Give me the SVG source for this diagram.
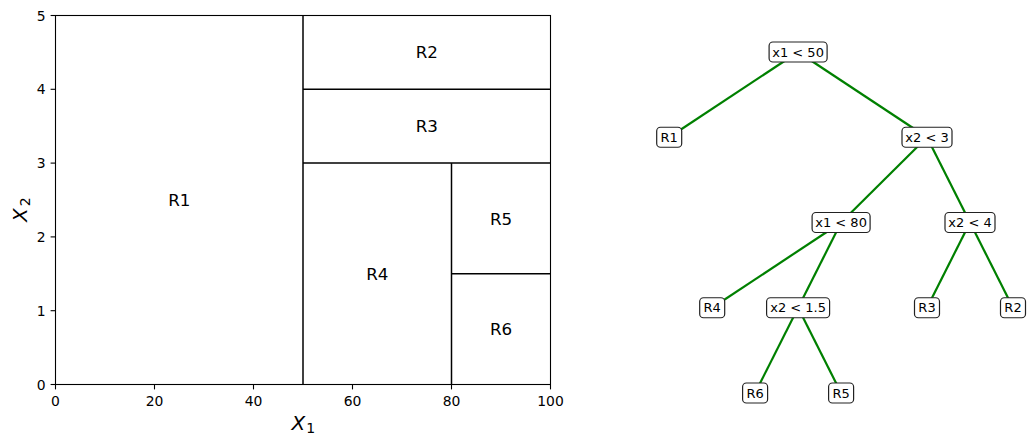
<svg xmlns="http://www.w3.org/2000/svg" width="1030" height="445" viewBox="0 0 1030 445">
<style>
text{font-family:"DejaVu Sans","Liberation Sans",sans-serif;fill:#000}
.tick{font-size:13.9px}
.reg{font-size:16.7px;text-anchor:middle}
.ax{stroke:#000;stroke-width:1.1;fill:none}
.split{stroke:#000;stroke-width:1.5;fill:none}
.tk{stroke:#000;stroke-width:1.1}
.edge{stroke:#008000;stroke-width:2.2;fill:none}
.box{fill:#fff;stroke:#222;stroke-width:1.2}
.nt{font-size:13px;text-anchor:middle}
</style>
<rect width="1030" height="445" fill="#fff"/>
<g id="partition-plot">
<g id="splits">
<line class="split" x1="303" y1="15.5" x2="303" y2="384.5"/>
<line class="split" x1="303" y1="89.3" x2="550.5" y2="89.3"/>
<line class="split" x1="303" y1="163.1" x2="550.5" y2="163.1"/>
<line class="split" x1="451.5" y1="163.1" x2="451.5" y2="384.5"/>
<line class="split" x1="451.5" y1="273.8" x2="550.5" y2="273.8"/>
</g>
<rect class="ax" x="55.5" y="15.5" width="495" height="369"/>
<g id="xticks">
<line class="tk" x1="55.5" y1="384.5" x2="55.5" y2="389.4"/>
<line class="tk" x1="154.5" y1="384.5" x2="154.5" y2="389.4"/>
<line class="tk" x1="253.5" y1="384.5" x2="253.5" y2="389.4"/>
<line class="tk" x1="352.5" y1="384.5" x2="352.5" y2="389.4"/>
<line class="tk" x1="451.5" y1="384.5" x2="451.5" y2="389.4"/>
<line class="tk" x1="550.5" y1="384.5" x2="550.5" y2="389.4"/>
<text class="tick" x="55.5" y="406" text-anchor="middle">0</text>
<text class="tick" x="154.5" y="406" text-anchor="middle">20</text>
<text class="tick" x="253.5" y="406" text-anchor="middle">40</text>
<text class="tick" x="352.5" y="406" text-anchor="middle">60</text>
<text class="tick" x="451.5" y="406" text-anchor="middle">80</text>
<text class="tick" x="550.5" y="406" text-anchor="middle">100</text>
</g>
<g id="yticks">
<line class="tk" x1="50.6" y1="384.5" x2="55.5" y2="384.5"/>
<line class="tk" x1="50.6" y1="310.7" x2="55.5" y2="310.7"/>
<line class="tk" x1="50.6" y1="236.9" x2="55.5" y2="236.9"/>
<line class="tk" x1="50.6" y1="163.1" x2="55.5" y2="163.1"/>
<line class="tk" x1="50.6" y1="89.3" x2="55.5" y2="89.3"/>
<line class="tk" x1="50.6" y1="15.5" x2="55.5" y2="15.5"/>
<text class="tick" x="45.5" y="389.5" text-anchor="end">0</text>
<text class="tick" x="45.5" y="315.7" text-anchor="end">1</text>
<text class="tick" x="45.5" y="241.9" text-anchor="end">2</text>
<text class="tick" x="45.5" y="168.1" text-anchor="end">3</text>
<text class="tick" x="45.5" y="94.3" text-anchor="end">4</text>
<text class="tick" x="45.5" y="20.5" text-anchor="end">5</text>
</g>
<text x="291.5" y="430" font-size="20" font-style="italic">X<tspan font-size="14" font-style="normal" dx="1" dy="3">1</tspan></text>
<text transform="translate(26.5,222) rotate(-90)" x="0" y="0" font-size="20" font-style="italic">X<tspan font-size="14" font-style="normal" dx="2" dy="3">2</tspan></text>
<g id="region-labels">
<text class="reg" x="179.3" y="206">R1</text>
<text class="reg" x="426.8" y="58.4">R2</text>
<text class="reg" x="426.8" y="132.2">R3</text>
<text class="reg" x="377.3" y="279.8">R4</text>
<text class="reg" x="501" y="224.5">R5</text>
<text class="reg" x="501" y="335.2">R6</text>
</g>
</g>
<g id="connectors">
<line class="edge" x1="798.1" y1="52" x2="669.2" y2="137.25"/>
<line class="edge" x1="798.1" y1="52" x2="927" y2="137.25"/>
<line class="edge" x1="927" y1="137.25" x2="841.1" y2="222.5"/>
<line class="edge" x1="927" y1="137.25" x2="970" y2="222.5"/>
<line class="edge" x1="841.1" y1="222.5" x2="712.2" y2="307.75"/>
<line class="edge" x1="841.1" y1="222.5" x2="798.1" y2="307.75"/>
<line class="edge" x1="970" y1="222.5" x2="927" y2="307.75"/>
<line class="edge" x1="970" y1="222.5" x2="1013" y2="307.75"/>
<line class="edge" x1="798.1" y1="307.75" x2="755.1" y2="393"/>
<line class="edge" x1="798.1" y1="307.75" x2="841.1" y2="393"/>
</g>
<g id="n-root"><rect class="box" x="769.1" y="42" width="58" height="20" rx="3.8"/><text class="nt" x="798.1" y="56.6">x1 &lt; 50</text></g>
<g id="n-R1"><rect class="box" x="656.7" y="127.25" width="25" height="20" rx="3.8"/><text class="nt" x="669.2" y="141.85">R1</text></g>
<g id="n-x2lt3"><rect class="box" x="902" y="127.25" width="50" height="20" rx="3.8"/><text class="nt" x="927" y="141.85">x2 &lt; 3</text></g>
<g id="n-x1lt80"><rect class="box" x="812.1" y="212.5" width="58" height="20" rx="3.8"/><text class="nt" x="841.1" y="227.1">x1 &lt; 80</text></g>
<g id="n-x2lt4"><rect class="box" x="945" y="212.5" width="50" height="20" rx="3.8"/><text class="nt" x="970" y="227.1">x2 &lt; 4</text></g>
<g id="n-R4"><rect class="box" x="699.7" y="297.75" width="25" height="20" rx="3.8"/><text class="nt" x="712.2" y="312.35">R4</text></g>
<g id="n-x2lt15"><rect class="box" x="766.6" y="297.75" width="63" height="20" rx="3.8"/><text class="nt" x="798.1" y="312.35">x2 &lt; 1.5</text></g>
<g id="n-R3"><rect class="box" x="914.5" y="297.75" width="25" height="20" rx="3.8"/><text class="nt" x="927" y="312.35">R3</text></g>
<g id="n-R2"><rect class="box" x="1000.5" y="297.75" width="25" height="20" rx="3.8"/><text class="nt" x="1013" y="312.35">R2</text></g>
<g id="n-R6"><rect class="box" x="742.6" y="383" width="25" height="20" rx="3.8"/><text class="nt" x="755.1" y="397.6">R6</text></g>
<g id="n-R5"><rect class="box" x="828.6" y="383" width="25" height="20" rx="3.8"/><text class="nt" x="841.1" y="397.6">R5</text></g>
</svg>
